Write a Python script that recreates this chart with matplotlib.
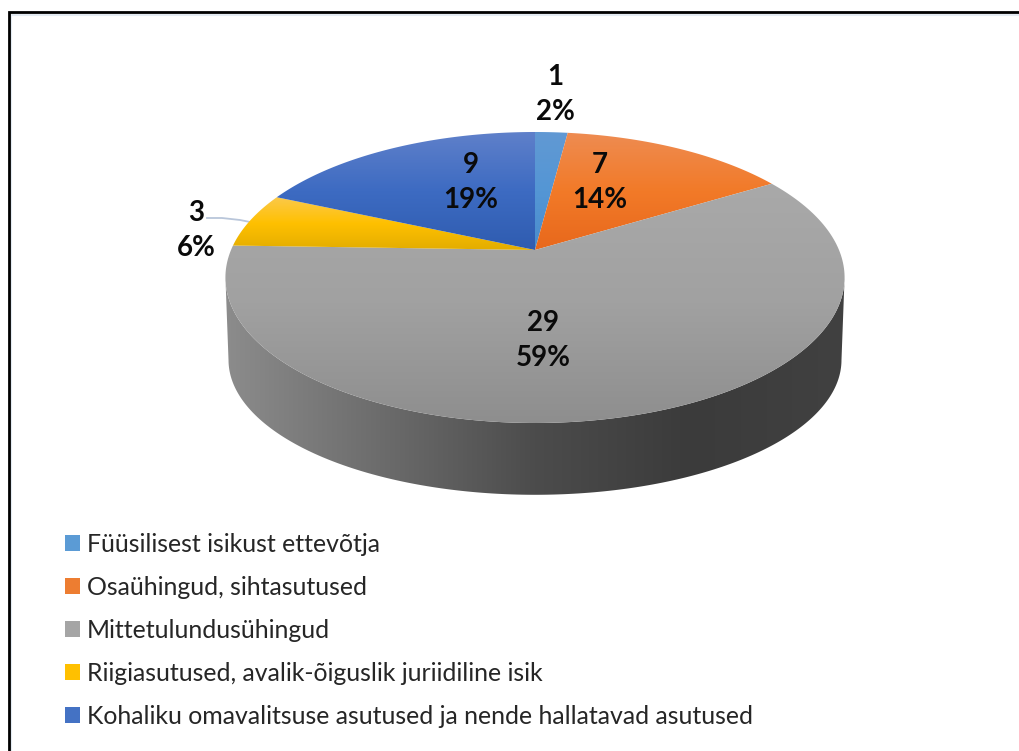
import numpy as np
import matplotlib
matplotlib.use("Agg")
import matplotlib.pyplot as plt
from matplotlib.colors import LinearSegmentedColormap
from matplotlib.patches import Polygon, Patch

plt.rcParams['font.family'] = ['Lato', 'DejaVu Sans']

categories = [
    'Füüsilisest isikust ettevõtja',
    'Osaühingud, sihtasutused',
    'Mittetulundusühingud',
    'Riigiasutused, avalik-õiguslik juriidiline isik',
    'Kohaliku omavalitsuse asutused ja nende hallatavad asutused',
]
values = [1, 7, 29, 3, 9]
percents = ['2%', '14%', '59%', '6%', '19%']

# top / middle / bottom of each slice
shades = [
    ['#6199d3', '#5496d5', '#4a8ccc'],
    ['#ee8c52', '#f27a28', '#e8681c'],
    ['#a9a9a9', '#a1a1a1', '#8e8e8e'],
    ['#fbc94a', '#ffc000', '#e3ad00'],
    ['#5f80ca', '#3d6bc2', '#2f5cb0'],
]
legend_colors = ['#5b9bd5', '#ed7d31', '#a5a5a5', '#ffc000', '#4472c4']
label_pos = [(555, 94.5), (600, 182.5), (543, 340.5), (196, 230.5), (471, 182.5)]

# the pie lies in perspective, so the centre sits above the middle of the ellipse
CX, CY = 535, 250
AX, BY, K = 304, 140.3, 0.189


def project(theta, ax_=AX, by=BY, cy=CY):
    u, v = np.sin(theta), np.cos(theta)
    d = 1 + K * v
    return CX + ax_ * u / d, cy - by * v / d


fig = plt.figure(figsize=(10.2, 7.51), dpi=100)
ax = fig.add_axes([0, 0, 1, 1])
ax.set_xlim(0, 1020)
ax.set_ylim(751, 0)
ax.axis('off')

# frame of the screenshot
ax.plot([11, 11], [751, 14.5], color='#e4ebf3', lw=1.5, zorder=1)
ax.plot([1020, 11], [14.5, 14.5], color='#e4ebf3', lw=1.5, zorder=1)
ax.plot([9, 9, 1020], [751, 12, 12], color='black', lw=2, zorder=2, solid_joinstyle='miter')

# side wall
front = np.radians(np.linspace(90 + np.degrees(np.arcsin(K)), 270 - np.degrees(np.arcsin(K)), 200))
tx, ty = project(front)
bx, by_ = project(front, ax_=AX * 0.99, by=130, cy=334.5)
wall = Polygon(np.r_[np.c_[tx, ty], np.c_[bx, by_][::-1]], closed=True, fc='none', ec='none')
ax.add_patch(wall)
wall_map = LinearSegmentedColormap.from_list('wall', ['#8c8c8c', '#6c6c6c', '#4c4c4c', '#3b3b3b', '#414141'])
im = ax.imshow(np.linspace(0, 1, 256).reshape(1, -1), cmap=wall_map, extent=[225, 845, 500, 270], aspect='auto', zorder=3)
im.set_clip_path(wall)

# top face
edges = np.cumsum([0] + values) / sum(values) * 2 * np.pi
for i in range(len(values)):
    th = np.linspace(edges[i], edges[i + 1], 200)
    x, y = project(th)
    x = np.r_[CX, x]
    y = np.r_[CY, y]
    wedge = Polygon(np.c_[x, y], closed=True, fc='none', ec='none')
    ax.add_patch(wedge)
    cmap = LinearSegmentedColormap.from_list('s%d' % i, shades[i])
    im = ax.imshow(np.linspace(0, 1, 256).reshape(-1, 1), cmap=cmap, aspect='auto', zorder=4,
                   extent=[x.min(), x.max(), y.max(), y.min()])
    im.set_clip_path(wedge)
ax.set_xlim(0, 1020)
ax.set_ylim(751, 0)

# data labels
for i, (lx, ly) in enumerate(label_pos):
    ax.text(lx, ly, '%d\n%s' % (values[i], percents[i]), ha='center', va='center', fontsize=20,
            fontweight='bold', color='#0a0a0a', linespacing=1.44, zorder=6)

# leader line of the small slice
ax.plot([207, 222, 240, 250], [218, 218, 220, 222], color='#b9c6da', lw=1.3, zorder=3)

handles = [Patch(fc=c, ec='none') for c in legend_colors]
ax.legend(handles, categories, loc='upper left', bbox_to_anchor=(65 / 1020, 1 - 533 / 751), frameon=False,
          fontsize=17.9, labelcolor='#262626', handlelength=0.6, handleheight=0.6, handletextpad=0.28,
          labelspacing=0.80, borderpad=0, borderaxespad=0)

fig.savefig('out.png', dpi=100)
